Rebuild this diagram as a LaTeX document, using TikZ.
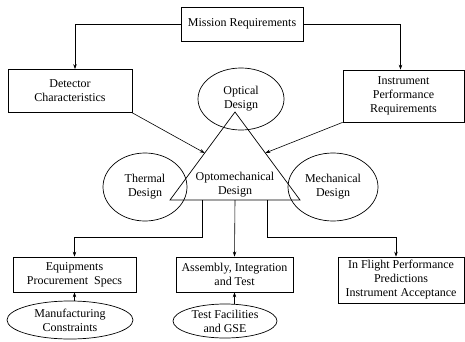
\documentclass[tikz,border=0pt]{standalone}
\usepackage{fontspec}
\setmainfont{Liberation Serif}
\usetikzlibrary{shapes.geometric,arrows.meta,calc}

\begin{document}
\begin{tikzpicture}[x=1pt,y=1pt,
		font=\fontsize{12}{14}\selectfont,
		box/.style={draw,line width=0.7pt,align=center,inner sep=0pt},
		blob/.style={draw,ellipse,line width=0.7pt,align=center,inner sep=0pt},
		arr/.style={line width=0.6pt,-{Stealth[length=5pt,width=3.5pt]}}]
		\useasboundingbox (0,0) rectangle (465,341);
		% top row
		\node[box,minimum width=122,minimum height=34] (mission) at (242,317) {Mission Requirements};
		\node[box,minimum width=124,minimum height=43] (detector) at (70,250) {Detector\\Characteristics};
		\node[box,minimum width=121,minimum height=52] (instrument) at (403.5,245) {Instrument\\Performance\\Requirements};
		% design triangle and circles
		\node[blob,minimum width=86,minimum height=62] (optical) at (241,242) {Optical\\Design};
		\node[blob,minimum width=84,minimum height=68] (thermal) at (145,154) {Thermal\\Design};
		\node[blob,minimum width=90,minimum height=68] (mechanical) at (333,154) {Mechanical\\Design};
		\coordinate (apex) at (235,229);
		\coordinate (tl) at (170,141);
		\coordinate (tr) at (300,141);
		\draw[line width=0.7pt] (apex) -- (tl) -- (tr) -- cycle;
		\node[align=center,inner sep=0pt] (optomech) at (235,156) {Optomechanical\\Design};
		% bottom row
		\node[box,minimum width=123,minimum height=35] (equip) at (74.5,66.5) {Equipments\\Procurement\ \ Specs};
		\node[box,minimum width=117,minimum height=35] (assembly) at (234.5,66.5) {Assembly, Integration\\and Test};
		\node[box,minimum width=126,minimum height=46] (inflight) at (401,61) {In Flight Performance\\Predictions\\Instrument Acceptance};
		\node[blob,minimum width=126,minimum height=38] (manuf) at (70,21) {Manufacturing\\Constraints};
		\node[blob,minimum width=104,minimum height=34] (testfac) at (225,20) {Test Facilities\\and GSE};
		% connectors
		\draw[arr] (mission.west) -| ([xshift=5pt]detector.north);
		\draw[arr] (mission.east) -| ([xshift=-3pt]instrument.north);
		\draw[arr] (detector.south east) -- ($(apex)!0.466!(tl)$);
		\draw[arr] (instrument.south west) -- ($(apex)!0.466!(tr)$);
		\draw[arr] ($(tl)!0.25!(tr)$) -- ++(0,-37) -| (equip.north);
		\draw[arr] ($(tl)!0.5!(tr)$) -- (assembly.north);
		\draw[arr] ($(tl)!0.75!(tr)$) -- ++(0,-37) -| ([xshift=-5pt]inflight.north);
		\draw[arr] (equip.south |- manuf.north) -- (equip.south);
		\draw[arr] (testfac.north -| assembly.south) -- (assembly.south);
\end{tikzpicture}
\end{document}
